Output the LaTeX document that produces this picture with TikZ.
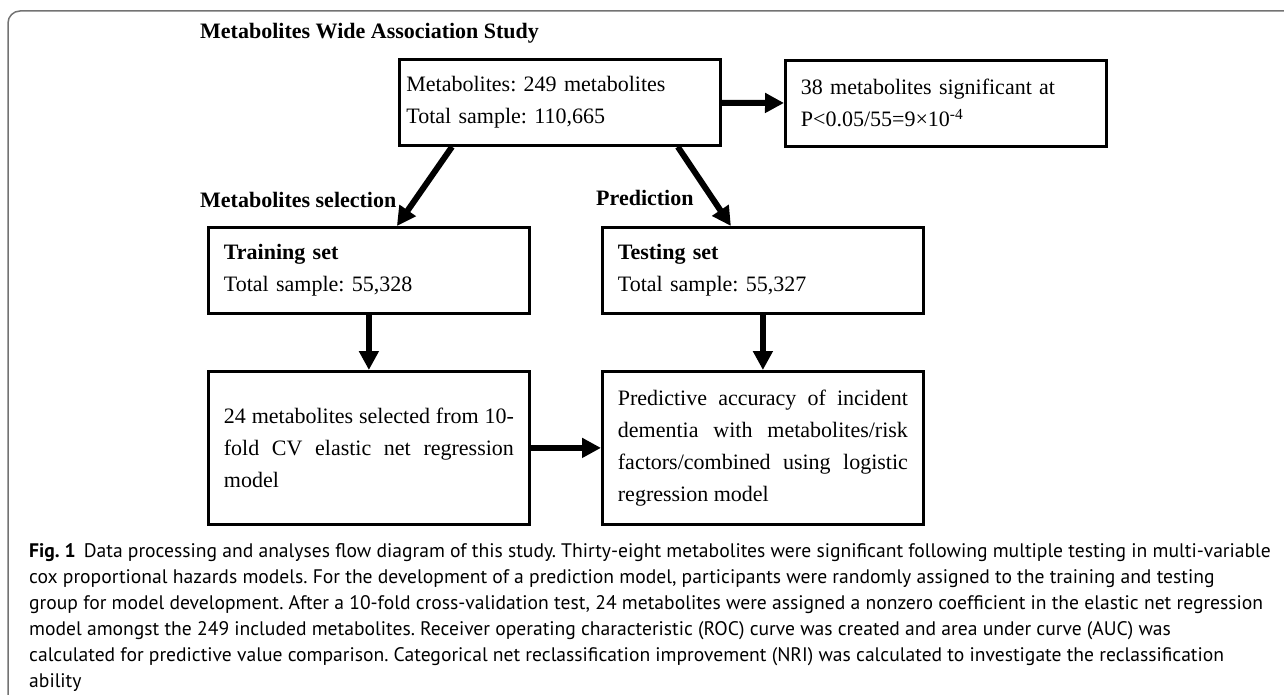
\documentclass[tikz,border=0pt]{standalone}
\usepackage{fontspec}
\setmainfont{Liberation Serif}
\newfontfamily\capfont{PT Sans}
\usetikzlibrary{arrows.meta}
\frenchspacing

\begin{document}
\begin{tikzpicture}[x=1pt,y=-1pt,
    box/.style={draw,line width=2.8pt,anchor=north west,minimum width=321pt,
      minimum height=86pt,inner xsep=15.5pt,inner ysep=0pt,text width=290pt,
      font=\fontsize{22}{32}\selectfont},
    flow/.style={line width=6pt,-{Triangle[length=19pt,width=19pt]}},
    head/.style={anchor=west,inner sep=0pt,font=\fontsize{22}{26}\selectfont\bfseries}]
  \useasboundingbox (0,0) rectangle (1284,695);

  \draw[black!55,line width=1.5pt,rounded corners=12pt] (8,700) -- (8,11) -- (1290,11);

  \node[head] (mwas) at (200,33) {Metabolites Wide Association Study};
  \node[head] (sel)  at (200,200) {Metabolites selection};
  \node[head] (pred) at (596,198) {Prediction};

  \node[box,align=left,inner xsep=7pt,text width=307pt] (wide) at (398,58)
    {Metabolites: 249 metabolites\\Total sample: 110,665};
  \node[box,align=left] (signif) at (784,59)
    {38 metabolites significant at\\P<0.05/55=9×10\textsuperscript{-4}};

  \node[box,align=left] (train) at (207,226) {\textbf{Training set}\\Total sample: 55,328};
  \node[box,align=left] (test)  at (601,226) {\textbf{Testing set}\\Total sample: 55,327};

  \node[box,align=justify,minimum height=153pt] (select) at (207,370)
    {24 metabolites selected from 10-\linebreak fold CV elastic net regression\linebreak model};
  \node[box,align=justify,minimum height=153pt] (predict) at (601,370)
    {Predictive accuracy of incident\linebreak dementia with metabolites/risk\linebreak
     factors/combined using logistic\linebreak regression model};

  \draw[flow] (wide) -- (signif);
  \draw[flow] ([xshift=54pt]wide.south west) -- ([xshift=28pt]train.north);
  \draw[flow] ([xshift=-44pt]wide.south east) -- ([xshift=-32pt]test.north);
  \draw[flow] (train) -- (select);
  \draw[flow] (test) -- (predict);
  \draw[flow] (select) -- (predict);

  \node[anchor=north west,inner sep=0pt,align=left,font=\capfont\fontsize{19.6}{26}\selectfont] (cap) at (29,543)
    {\textbf{Fig. 1}\hspace{8pt}Data processing and analyses flow diagram of this study. Thirty-eight metabolites were significant following multiple testing in multi-variable\\
     cox proportional hazards models. For the development of a prediction model, participants were randomly assigned to the training and testing\\
     group for model development. After a 10-fold cross-validation test, 24 metabolites were assigned a nonzero coefficient in the elastic net regression\\
     model amongst the 249 included metabolites. Receiver operating characteristic (ROC) curve was created and area under curve (AUC) was\\
     calculated for predictive value comparison. Categorical net reclassification improvement (NRI) was calculated to investigate the reclassification\\
     ability};
\end{tikzpicture}
\end{document}
